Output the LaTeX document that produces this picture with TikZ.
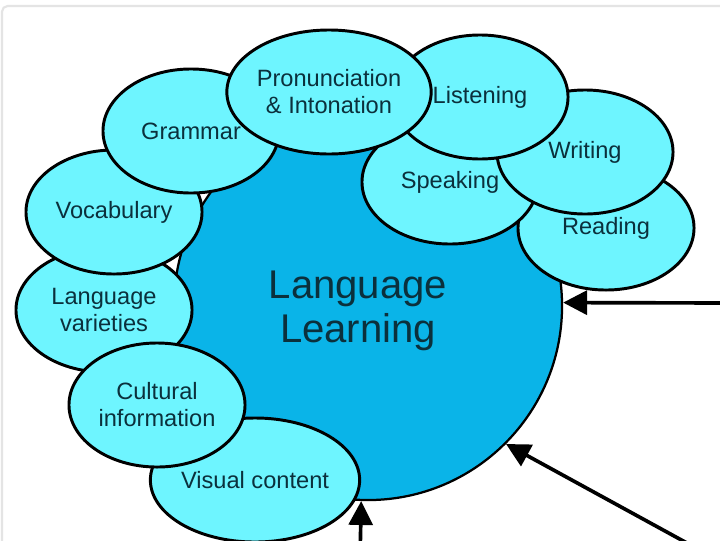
\documentclass[tikz,border=0pt]{standalone}
\usepackage{fontspec}
\setmainfont{Liberation Sans}
\usetikzlibrary{shapes.geometric,arrows.meta}
\definecolor{bigblue}{HTML}{0AB4E8}
\definecolor{lightcyan}{HTML}{6EF5FF}
\definecolor{txt}{HTML}{0B303C}
\definecolor{framegray}{HTML}{E4E4E4}
\begin{document}
\begin{tikzpicture}[x=0.025cm,y=-0.025cm,
  topic/.style={ellipse, draw=black, line width=2.1pt, fill=lightcyan, inner sep=0pt,
    minimum width=4.4cm, minimum height=3.1cm, text=txt,
    font=\fontsize{16.8}{19.2}\selectfont, align=center},
  hub/.style={circle, draw=black, line width=1.6pt, fill=bigblue, inner sep=0pt,
    minimum size=9.7cm},
  hubtext/.style={text=txt, font=\fontsize{28.5}{31}\selectfont, align=center},
  arr/.style={line width=2.6pt, -{Triangle[length=17pt,width=17pt]}}]
\useasboundingbox (0,0) rectangle (720,540);
\fill[white] (0,0) rectangle (720,540);
\draw[framegray, line width=1.5pt, rounded corners=4pt] (2,560) -- (2,6) -- (740,6);

\node[hub, label={[hubtext, xshift=-0.25cm, yshift=-0.12cm]center:Language\\Learning}] (LL) at (368,306) {};

\coordinate (s1) at (730,303);
\coordinate (s2) at (707,554);
\coordinate (s3) at (360,560);
\draw[arr] (s1) -- (LL.1);
\draw[arr] (s2) -- (LL.-45);
\draw[arr] (s3) -- (LL.-92.4);

\node[topic] (vis) at (255,480) {Visual content};
\node[topic] (var) at (104,310) {Language\\varieties};
\node[topic] (cul) at (157,405) {Cultural\\information};
\node[topic] (voc) at (114,212) {Vocabulary};
\node[topic] (gra) at (191,131) {Grammar};
\node[topic] (rea) at (606,228) {Reading};
\node[topic] (spe) at (450,182) {Speaking};
\node[topic] (wri) at (585,152) {Writing};
\node[topic] (lis) at (480,97) {Listening};
\node[topic] (pro) at (329,92) {Pronunciation\\\& Intonation};
\end{tikzpicture}
\end{document}
